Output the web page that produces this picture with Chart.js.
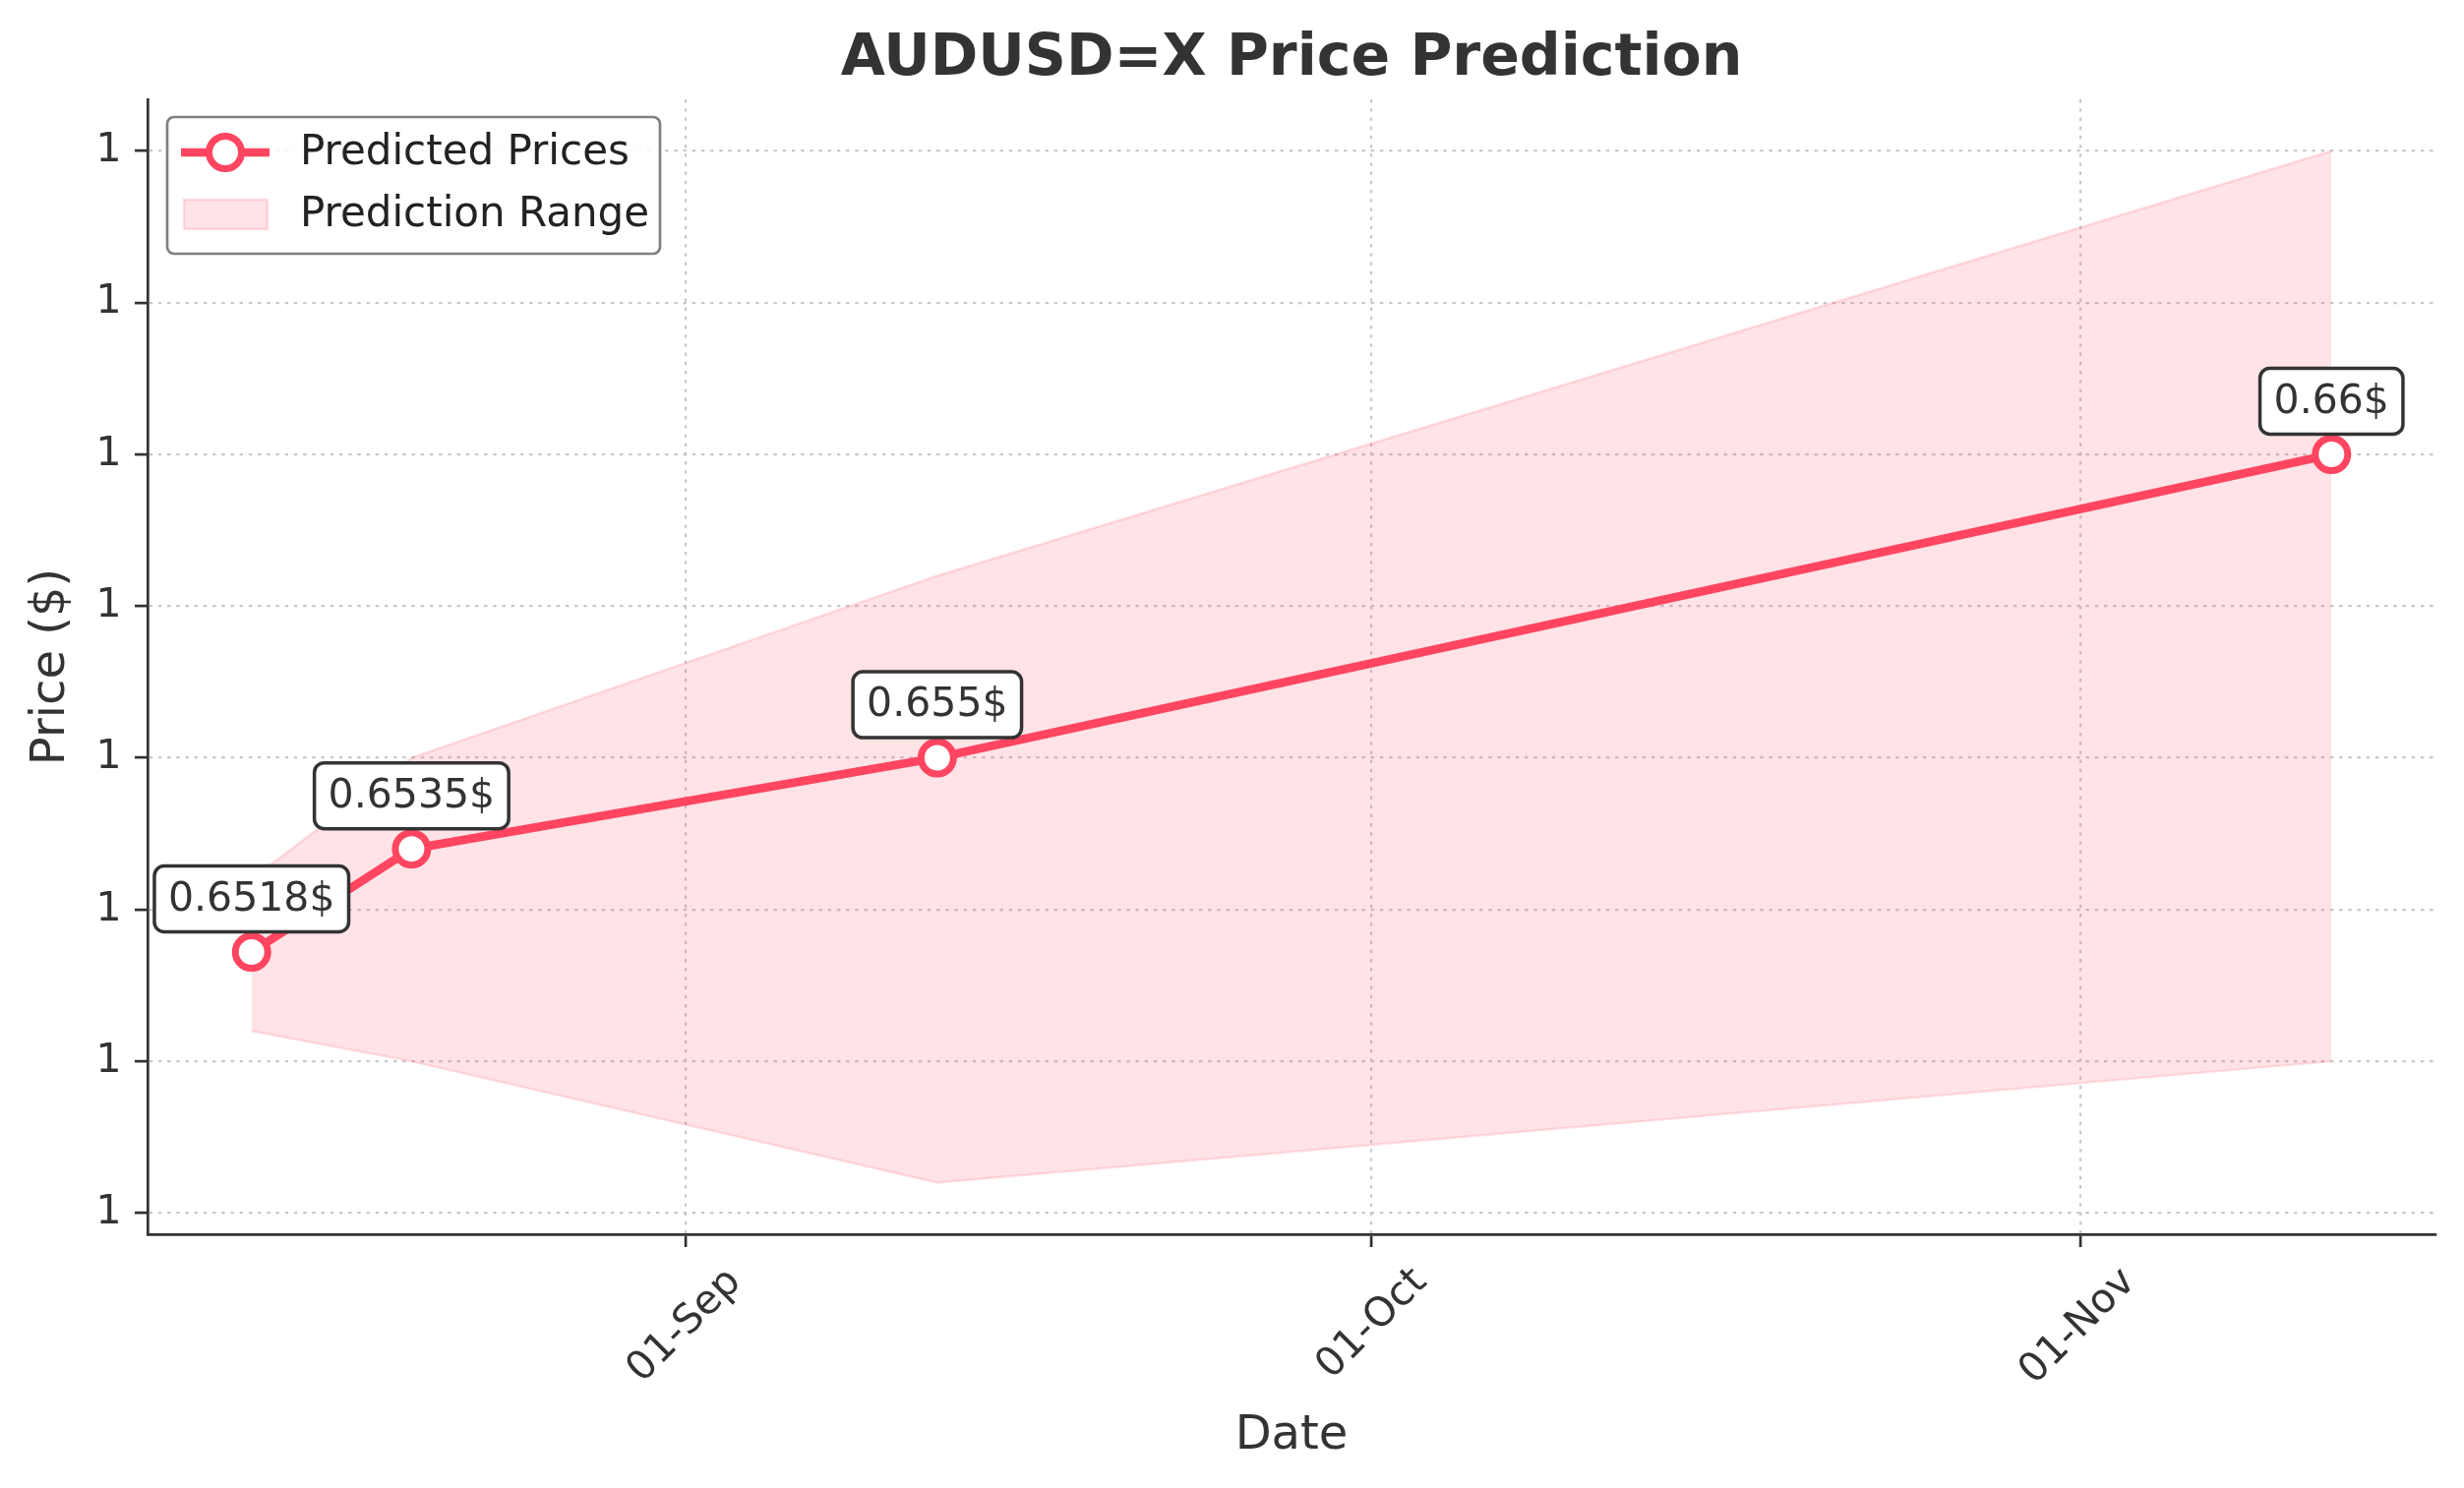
<!DOCTYPE html>
<html><head><meta charset="utf-8">
<script src="https://cdn.jsdelivr.net/npm/chart.js@4.4.1/dist/chart.umd.min.js"></script>
<style>html,body{margin:0;padding:0;background:#fff;}canvas{display:block;}</style>
</head><body>
<canvas id="c" width="2505" height="1513"></canvas>
<script>
const chartTitle = 'AUDUSD=X Price Prediction';
const dates = ['2024-08-13', '2024-08-20', '2024-09-12', '2024-11-12'];
const predictedPrices = [0.6518, 0.6535, 0.655, 0.66];
const upperBound = [0.6530, 0.6550, 0.6580, 0.6650];
const lowerBound = [0.6505, 0.6500, 0.6480, 0.6500];
const xTickDates = ['2024-09-01', '2024-10-01', '2024-11-01'];
const xTickLabels = ['01-Sep', '01-Oct', '01-Nov'];
const yTickValues = [0.6475, 0.65, 0.6525, 0.655, 0.6575, 0.66, 0.6625, 0.665];
const yTickLabels = ['1', '1', '1', '1', '1', '1', '1', '1'];

const FONT = "'DejaVu Sans', 'Liberation Sans', sans-serif";
const LINE = '#FF4560';
const BAND_FILL = 'rgba(255,69,96,0.15)';
const BAND_EDGE = 'rgba(255,69,96,0.16)';
const TEXT = '#333333';

const toDay = s => { const [y, m, d] = s.split('-').map(Number); return Date.UTC(y, m - 1, d) / 86400000; };
const xs = dates.map(toDay);
const xMargin = 0.05 * (xs[xs.length - 1] - xs[0]);
const yLo = Math.min(...lowerBound), yHi = Math.max(...upperBound);
const yMargin = 0.05 * (yHi - yLo);

function roundRect(ctx, x, y, w, h, r) {
  ctx.beginPath();
  ctx.moveTo(x + r, y);
  ctx.lineTo(x + w - r, y); ctx.arcTo(x + w, y, x + w, y + r, r);
  ctx.lineTo(x + w, y + h - r); ctx.arcTo(x + w, y + h, x + w - r, y + h, r);
  ctx.lineTo(x + r, y + h); ctx.arcTo(x, y + h, x, y + h - r, r);
  ctx.lineTo(x, y + r); ctx.arcTo(x, y, x + r, y, r);
  ctx.closePath();
}

const decorations = {
  id: 'decorations',
  afterDatasetsDraw(chart) {
    const ctx = chart.ctx;
    const meta = chart.getDatasetMeta(0);
    ctx.save();
    ctx.font = '41px ' + FONT;
    meta.data.forEach((pt, i) => {
      const txt = predictedPrices[i] + '$';
      const tw = ctx.measureText(txt).width;
      const bw = tw + 28, bh = 67;
      const cx = pt.x, cy = pt.y - 54;
      roundRect(ctx, cx - bw / 2, cy - bh / 2, bw, bh, 10);
      ctx.fillStyle = '#ffffff';
      ctx.fill();
      ctx.lineWidth = 3.5;
      ctx.strokeStyle = TEXT;
      ctx.stroke();
      ctx.fillStyle = TEXT;
      ctx.textAlign = 'center';
      ctx.textBaseline = 'middle';
      ctx.fillText(txt, cx, cy + 1);
    });
    ctx.restore();
  },
  afterDraw(chart) {
    const ctx = chart.ctx;
    const ca = chart.chartArea;
    ctx.save();
    // title
    ctx.font = 'bold 58.5px ' + FONT;
    ctx.fillStyle = TEXT;
    ctx.textAlign = 'center';
    ctx.textBaseline = 'alphabetic';
    ctx.fillText(chartTitle, (ca.left + ca.right) / 2, 76);
    // legend
    const lx = 170, ly = 119, lw = 501, lh = 139;
    roundRect(ctx, lx, ly, lw, lh, 7);
    ctx.fillStyle = 'rgba(255,255,255,0.85)';
    ctx.fill();
    ctx.lineWidth = 2.7;
    ctx.strokeStyle = '#808080';
    ctx.stroke();
    const ds = chart.data.datasets;
    // item 1
    const y1 = 155;
    ctx.strokeStyle = ds[0].borderColor;
    ctx.lineWidth = ds[0].borderWidth;
    ctx.beginPath(); ctx.moveTo(184, y1); ctx.lineTo(274, y1); ctx.stroke();
    ctx.beginPath(); ctx.arc(229, y1, ds[0].pointRadius, 0, Math.PI * 2);
    ctx.fillStyle = '#ffffff'; ctx.fill();
    ctx.lineWidth = ds[0].pointBorderWidth; ctx.strokeStyle = ds[0].pointBorderColor; ctx.stroke();
    // item 2
    ctx.fillStyle = ds[1].backgroundColor;
    ctx.fillRect(187, 203, 85, 30);
    ctx.strokeStyle = ds[1].borderColor; ctx.lineWidth = 2.5;
    ctx.strokeRect(187, 203, 85, 30);
    ctx.font = '42px ' + FONT;
    ctx.fillStyle = '#222222';
    ctx.textAlign = 'left';
    ctx.textBaseline = 'middle';
    ctx.fillText(ds[0].label, 305, y1 + 1);
    ctx.fillText(ds[1].label, 305, 219);
    ctx.restore();
  }
};

const gridCommon = {
  color: '#c8c8c8', lineWidth: 2.2,
  tickColor: TEXT, tickWidth: 2.7, tickLength: 13, tickBorderDash: [], drawTicks: true
};
const borderCommon = { display: true, color: TEXT, width: 2.7, dash: [3.4, 5.8] };

new Chart(document.getElementById('c'), {
  type: 'line',
  data: {
    datasets: [
      { label: 'Predicted Prices', data: xs.map((x, i) => ({ x, y: predictedPrices[i] })),
        borderColor: LINE, borderWidth: 8.7, pointRadius: 16.5, pointBorderWidth: 7,
        pointBackgroundColor: '#ffffff', pointBorderColor: LINE, fill: false, tension: 0, order: 0 },
      { label: 'Prediction Range', data: xs.map((x, i) => ({ x, y: upperBound[i] })),
        borderColor: BAND_EDGE, borderWidth: 2.5, backgroundColor: BAND_FILL, fill: '+1', pointRadius: 0, tension: 0, order: 1 },
      { label: 'Lower', data: xs.map((x, i) => ({ x, y: lowerBound[i] })),
        borderColor: BAND_EDGE, borderWidth: 2.5, backgroundColor: BAND_FILL, fill: false, pointRadius: 0, tension: 0, order: 2 }
    ]
  },
  options: {
    responsive: false, animation: false, devicePixelRatio: 1,
    layout: { padding: { top: 101, right: 29, left: 0, bottom: 0 } },
    plugins: { legend: { display: false }, tooltip: { enabled: false }, title: { display: false } },
    scales: {
      x: {
        type: 'linear', min: xs[0] - xMargin, max: xs[xs.length - 1] + xMargin,
        afterBuildTicks: s => { s.ticks = xTickDates.map(d => ({ value: toDay(d) })); },
        afterFit: s => { s.height = 258; },
        ticks: { callback: (v, i) => xTickLabels[i], minRotation: 45, maxRotation: 45, autoSkip: false,
                 labelOffset: 50, padding: 12, font: { family: FONT, size: 41 }, color: TEXT },
        grid: gridCommon,
        border: borderCommon,
        title: { display: true, text: 'Date', font: { family: FONT, size: 48 }, color: TEXT, padding: { top: 0, bottom: 24 } }
      },
      y: {
        type: 'linear', min: yLo - yMargin, max: yHi + yMargin,
        afterBuildTicks: s => { s.ticks = yTickValues.map(v => ({ value: v })); },
        afterFit: s => { s.width = 150; },
        ticks: { callback: (v, i) => yTickLabels[i], padding: 13.5, font: { family: FONT, size: 41 }, color: TEXT },
        grid: gridCommon,
        border: borderCommon,
        title: { display: true, text: 'Price ($)', font: { family: FONT, size: 48 }, color: TEXT, padding: { top: 24, bottom: 0 } }
      }
    }
  },
  plugins: [decorations]
});
</script>
</body></html>
